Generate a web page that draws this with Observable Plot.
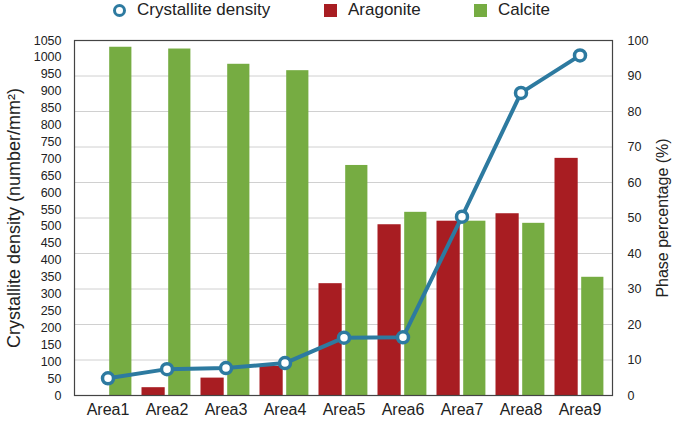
<!DOCTYPE html>
<html>
<head>
<meta charset="utf-8">
<script src="https://cdn.jsdelivr.net/npm/d3@7"></script>
<script src="https://cdn.jsdelivr.net/npm/@observablehq/plot@0.6"></script>
<style>
  body { margin: 0; background: #fff; font-family: "Liberation Sans", Arial, sans-serif; }
  #wrap { width: 675px; height: 421px; position: relative; }
  #legend { position: absolute; top: 0; left: 0; width: 675px; height: 30px; font-size: 17px; color: #222; z-index: 2; }
  .li { position: absolute; top: 0px; display: flex; align-items: center; gap: 11px; }
  .sq { width: 13px; height: 13px; display: inline-block; }
  .circ { width: 7px; height: 7px; border: 3px solid #2d7aa0; border-radius: 50%; display: inline-block; background: #fff; }
</style>
</head>
<body>
<div id="wrap">
  <div id="legend"></div>
  <div id="chart"></div>
</div>
<script>
const areas = ["Area1","Area2","Area3","Area4","Area5","Area6","Area7","Area8","Area9"];
const aragonite = [0, 2.2, 4.9, 8.2, 31.5, 48.1, 49.1, 51.2, 66.8];
const calcite = [98.1, 97.6, 93.3, 91.5, 64.8, 51.6, 49.1, 48.5, 33.3];
const density = [51, 78, 81, 96, 171, 172, 529, 895, 1006];
const densityTicks = d3.range(0, 1051, 50);
const phaseTicks = d3.range(0, 101, 10);
const densityMax = 1050;

const colors = { density: "#2d7aa0", aragonite: "#a81d22", calcite: "#76ac42" };

const aragData = areas.map((a, i) => ({ area: a, value: aragonite[i] }));
const calcData = areas.map((a, i) => ({ area: a, value: calcite[i] }));
const densData = areas.map((a, i) => ({ area: a, value: density[i] / densityMax * 100 }));

const legendItems = [
  { label: "Crystallite density", kind: "circ", color: colors.density, left: 113 },
  { label: "Aragonite", kind: "sq", color: colors.aragonite, left: 324 },
  { label: "Calcite", kind: "sq", color: colors.calcite, left: 474 }
];
const leg = document.getElementById("legend");
for (const it of legendItems) {
  const d = document.createElement("div");
  d.className = "li";
  d.style.left = it.left + "px";
  const m = document.createElement("span");
  m.className = it.kind;
  if (it.kind === "sq") m.style.background = it.color;
  d.appendChild(m);
  const t = document.createElement("span");
  t.textContent = it.label;
  d.appendChild(t);
  leg.appendChild(d);
}

const chart = Plot.plot({
  width: 675,
  height: 421,
  marginLeft: 74,
  marginRight: 63,
  marginTop: 40,
  marginBottom: 26,
  style: { fontFamily: "Liberation Sans, Arial, sans-serif", color: "#222", background: "transparent" },
  x: { domain: areas, padding: 0, label: null },
  y: { domain: [0, 100], label: null },
  marks: [
    Plot.gridY(phaseTicks.filter(t => t > 0 && t < 100), { stroke: "#d0d0d0", strokeOpacity: 1, strokeWidth: 1 }),
    Plot.barY(aragData, { x: "area", y: "value", fill: colors.aragonite, insetLeft: 4.5, insetRight: 31.3 }),
    Plot.barY(calcData, { x: "area", y: "value", fill: colors.calcite, insetLeft: 31.2, insetRight: 5.6 }),
    Plot.line(densData, { x: "area", y: "value", stroke: colors.density, strokeWidth: 4 }),
    Plot.dot(densData, { x: "area", y: "value", r: 5.5, fill: "white", stroke: colors.density, strokeWidth: 3.5 }),
    Plot.frame({ stroke: "#444", strokeWidth: 1.2 }),
    Plot.axisX({ tickSize: 0, tickPadding: 8, fontSize: 16, label: null }),
    Plot.axisY(densityTicks.map(v => v / densityMax * 100), {
      anchor: "left", tickSize: 0, tickPadding: 13, fontSize: 12.5,
      tickFormat: d => String(Math.round(d * densityMax / 100)),
      label: "Crystallite density (number/mm²)", labelAnchor: "center", labelOffset: 67, labelArrow: "none"
    }),
    Plot.axisY(phaseTicks, {
      anchor: "right", tickSize: 0, tickPadding: 15, fontSize: 12.5,
      label: "Phase percentage (%)", labelAnchor: "center", labelOffset: 55, labelArrow: "none"
    })
  ]
});
const labels = chart.querySelectorAll("g[aria-label='y-axis label'] text");
labels.forEach((t, i) => t.setAttribute("font-size", i === 0 ? "18" : "16"));
document.getElementById("chart").appendChild(chart);
</script>
</body>
</html>
